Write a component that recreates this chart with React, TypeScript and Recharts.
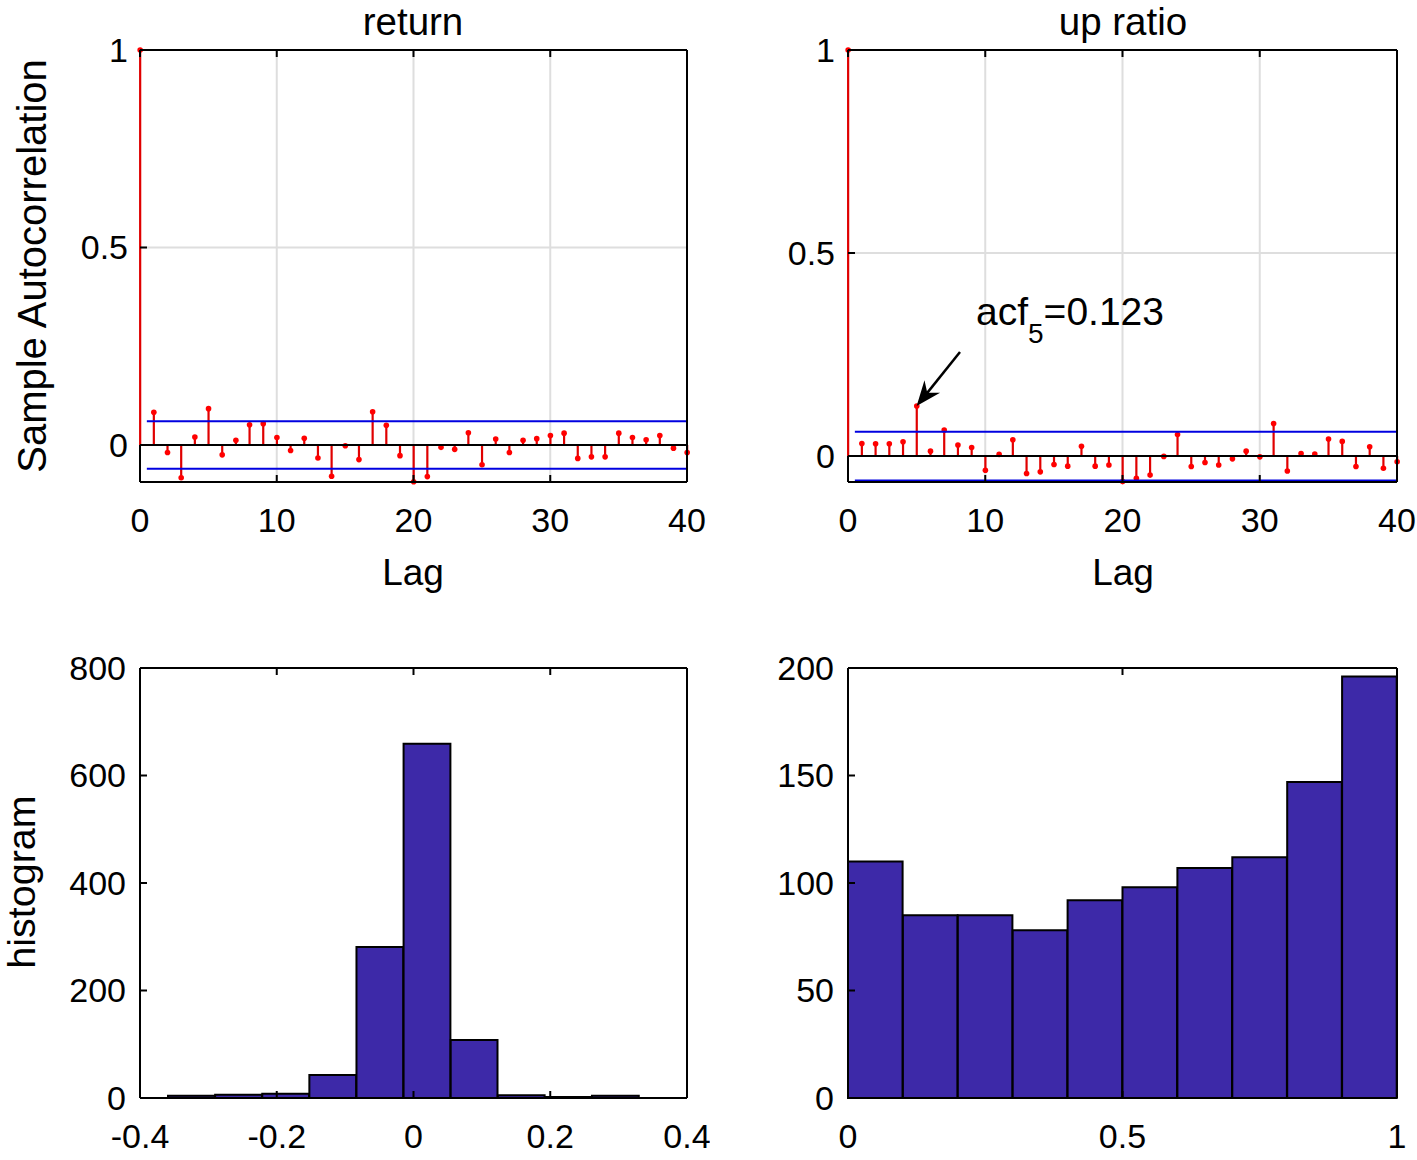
import React from 'react';
import { ComposedChart, Bar, XAxis, YAxis, CartesianGrid, ReferenceLine } from 'recharts';

const FONT = '"Liberation Sans", Arial, Helvetica, sans-serif';

// ---- autocorrelation data (lags 0..40) ----
const lags = [
  0, 1, 2, 3, 4, 5, 6, 7, 8, 9, 10, 11, 12, 13, 14, 15, 16, 17, 18, 19, 20,
  21, 22, 23, 24, 25, 26, 27, 28, 29, 30, 31, 32, 33, 34, 35, 36, 37, 38, 39, 40,
];
const returnAcf = [
  1, 0.083, -0.019, -0.083, 0.02, 0.092, -0.025, 0.012, 0.051, 0.054, 0.019,
  -0.014, 0.017, -0.033, -0.079, -0.002, -0.037, 0.084, 0.05, -0.027, -0.093,
  -0.08, -0.006, -0.011, 0.031, -0.05, 0.015, -0.019, 0.012, 0.016, 0.024,
  0.03, -0.034, -0.03, -0.03, 0.03, 0.019, 0.013, 0.024, -0.008, -0.019,
];
const upRatioAcf = [
  1, 0.031, 0.03, 0.03, 0.035, 0.123, 0.012, 0.064, 0.027, 0.021, -0.035,
  0.004, 0.04, -0.043, -0.039, -0.021, -0.025, 0.024, -0.025, -0.022, -0.063,
  -0.055, -0.047, -0.001, 0.053, -0.026, -0.016, -0.022, -0.007, 0.012, -0.002,
  0.08, -0.037, 0.006, 0.005, 0.042, 0.036, -0.026, 0.023, -0.03, -0.014,
];
const acfBound = 0.06;
const lagTicks = [0, 10, 20, 30, 40];
const acfTicks = [0, 0.5, 1];

// ---- histograms ----
const returnBins = [-0.3246, -0.2557, -0.1868, -0.1179, -0.049, 0.0199, 0.0888, 0.1577, 0.2266, 0.2954];
const returnCounts = [4, 6, 8, 43, 281, 659, 108, 5, 2, 4];
const returnBinWidth = 0.0689;
const returnTicks = [-0.4, -0.2, 0, 0.2, 0.4];
const returnCountTicks = [0, 200, 400, 600, 800];

const upRatioBins = [0.05, 0.15, 0.25, 0.35, 0.45, 0.55, 0.65, 0.75, 0.85, 0.95];
const upRatioCounts = [110, 85, 85, 78, 92, 98, 107, 112, 147, 196];
const upRatioBinWidth = 0.1;
const upRatioTicks = [0, 0.5, 1];
const upRatioCountTicks = [0, 50, 100, 150, 200];

// annotation arrow (data units) pointing at lag 5
const arrowTail = { x: 8.16, y: 0.256 };
const arrowLag = 5;

const STEM = '#e00000';
const DOT = '#ff0000';
const BOUND = '#0000e0';
const HIST = '#3d29a8';
const TICK_LEN = 7;
const YW = 60, XH = 50, RW = 1, TH = 1;

type Box = { left: number; top: number; width: number; height: number };
type Plot = { left: number; top: number; right: number; bottom: number };

const margins = (b: Box, p: Plot) => ({
  left: p.left - b.left - YW,
  top: p.top - b.top - TH,
  right: b.left + b.width - p.right - RW,
  bottom: b.top + b.height - p.bottom - XH,
});

const fmt = (v: number) => String(Math.round(v * 1000) / 1000);

const bottomTick = (m: number) => (p: any) => (
  <g>
    <line x1={p.x} x2={p.x} y1={p.y - m} y2={p.y - m - TICK_LEN} stroke="#000" strokeWidth={2} />
    <text x={p.x} y={p.y} dy="0.71em" textAnchor="middle" fontSize={34} fontFamily={FONT} fill="#000">
      {fmt(p.payload.value)}
    </text>
  </g>
);

const leftTick = (m: number) => (p: any) => (
  <g>
    <line x1={p.x + m} x2={p.x + m + TICK_LEN} y1={p.y} y2={p.y} stroke="#000" strokeWidth={2} />
    <text x={p.x} y={p.y} dy="0.35em" textAnchor="end" fontSize={34} fontFamily={FONT} fill="#000">
      {fmt(p.payload.value)}
    </text>
  </g>
);

const topTick = (p: any) => (
  <line x1={p.x} x2={p.x} y1={p.y} y2={p.y + TICK_LEN} stroke="#000" strokeWidth={2} />
);

const rightTick = (p: any) => (
  <line x1={p.x} x2={p.x - TICK_LEN} y1={p.y} y2={p.y} stroke="#000" strokeWidth={2} />
);

const frameLine = { stroke: '#000', strokeWidth: 2 };

const Stem = (props: any) => {
  const { x, y, width, height, payload } = props;
  const cx = x + width / 2;
  const top = Math.min(y, y + height);
  const bot = Math.max(y, y + height);
  const tip = payload.acf >= 0 ? top : bot;
  const base = payload.acf >= 0 ? bot : top;
  return (
    <g>
      <line x1={cx} x2={cx} y1={base} y2={tip} stroke={STEM} strokeWidth={2.2} />
      <circle cx={cx} cy={tip} r={2.8} fill={DOT} />
    </g>
  );
};

const Arrow = (p: any) => {
  const { x1, y1, x2, y2 } = p;
  const ang = Math.atan2(y2 - y1, x2 - x1);
  const pt = (d: number, w: number) =>
    `${x2 - d * Math.cos(ang) - w * Math.sin(ang)},${y2 - d * Math.sin(ang) + w * Math.cos(ang)}`;
  const nx = x2 - 16 * Math.cos(ang);
  const ny = y2 - 16 * Math.sin(ang);
  return (
    <g>
      <line x1={x1} y1={y1} x2={nx} y2={ny} stroke="#000" strokeWidth={2.5} />
      <polygon points={`${x2},${y2} ${pt(25, 10)} ${pt(17, 0)} ${pt(25, -10)}`} fill="#000" />
    </g>
  );
};

const AcfPanel: React.FC<{ values: number[]; lo: number; box: Box; plot: Plot; yMargin: number; arrow?: boolean }> = ({
  values, lo, box, plot, yMargin, arrow,
}) => {
  const data = lags.map((lag, i) => ({ lag, acf: values[i] }));
  return (
    <div style={{ position: 'absolute', left: box.left, top: box.top }}>
      <ComposedChart width={box.width} height={box.height} data={data} margin={margins(box, plot)}>
        <CartesianGrid stroke="#dedede" strokeWidth={2} />
        <XAxis dataKey="lag" type="number" domain={[0, 40]} ticks={lagTicks} interval={0}
          height={XH} tickSize={0} tickMargin={26} tickLine={false} axisLine={frameLine} tick={bottomTick(26)} />
        <XAxis xAxisId="t" dataKey="lag" orientation="top" type="number" domain={[0, 40]} ticks={lagTicks} interval={0}
          height={TH} tickSize={0} tickMargin={0} tickLine={false} axisLine={frameLine} tick={topTick} />
        <YAxis type="number" domain={[lo, 1]} ticks={acfTicks} interval={0}
          width={YW} tickSize={0} tickMargin={yMargin} tickLine={false} axisLine={false} tick={leftTick(yMargin)} />
        <YAxis yAxisId="r" orientation="right" type="number" domain={[lo, 1]} ticks={acfTicks} interval={0}
          width={RW} tickSize={0} tickMargin={0} tickLine={false} axisLine={frameLine} tick={rightTick} />
        {/* left frame below zero only; above zero the lag-0 stem forms the edge */}
        <ReferenceLine segment={[{ x: 0, y: lo }, { x: 0, y: 0 }]} stroke="#000" strokeWidth={2} />
        <ReferenceLine y={0} stroke="#000" strokeWidth={2} />
        <ReferenceLine segment={[{ x: 0.5, y: acfBound }, { x: 40, y: acfBound }]} stroke={BOUND} strokeWidth={2} />
        <ReferenceLine segment={[{ x: 0.5, y: -acfBound }, { x: 40, y: -acfBound }]} stroke={BOUND} strokeWidth={2} />
        <Bar dataKey="acf" barSize={2} shape={Stem} isAnimationActive={false} />
        {arrow && (
          <ReferenceLine segment={[arrowTail, { x: arrowLag, y: values[arrowLag] }]} shape={Arrow} />
        )}
      </ComposedChart>
    </div>
  );
};

const HistPanel: React.FC<{
  bins: number[]; counts: number[]; binWidth: number; xDomain: [number, number]; xTicks: number[];
  yMax: number; yTicks: number[]; box: Box; plot: Plot;
}> = ({ bins, counts, binWidth, xDomain, xTicks, yMax, yTicks, box, plot }) => {
  const data = bins.map((x, i) => ({ x, count: counts[i] }));
  // a hair under the bin spacing so Recharts does not shrink the bars to 90%
  const barSize = (binWidth / (xDomain[1] - xDomain[0])) * (plot.right - plot.left) - 0.3;
  return (
    <div style={{ position: 'absolute', left: box.left, top: box.top }}>
      <ComposedChart width={box.width} height={box.height} data={data} margin={margins(box, plot)} barGap={0}>
        <XAxis dataKey="x" type="number" domain={xDomain} ticks={xTicks} interval={0}
          height={XH} tickSize={0} tickMargin={26} tickLine={false} axisLine={frameLine} tick={bottomTick(26)} />
        <XAxis xAxisId="t" dataKey="x" orientation="top" type="number" domain={xDomain} ticks={xTicks} interval={0}
          height={TH} tickSize={0} tickMargin={0} tickLine={false} axisLine={frameLine} tick={topTick} />
        <YAxis type="number" domain={[0, yMax]} ticks={yTicks} interval={0}
          width={YW} tickSize={0} tickMargin={14} tickLine={false} axisLine={frameLine} tick={leftTick(14)} />
        <YAxis yAxisId="r" orientation="right" type="number" domain={[0, yMax]} ticks={yTicks} interval={0}
          width={RW} tickSize={0} tickMargin={0} tickLine={false} axisLine={frameLine} tick={rightTick} />
        <Bar dataKey="count" barSize={barSize} fill={HIST} stroke="#000" strokeWidth={2} isAnimationActive={false} />
      </ComposedChart>
    </div>
  );
};

const App: React.FC = () => (
  <div style={{ position: 'absolute', left: 0, top: 0, width: 1417, height: 1160, background: '#fff', fontFamily: FONT }}>
    <AcfPanel values={returnAcf} lo={-0.0937} yMargin={12}
      box={{ left: 0, top: 0, width: 710, height: 600 }} plot={{ left: 140, top: 50, right: 687, bottom: 482 }} />
    <AcfPanel values={upRatioAcf} lo={-0.064} yMargin={13} arrow
      box={{ left: 720, top: 0, width: 697, height: 600 }} plot={{ left: 848, top: 50, right: 1397, bottom: 482 }} />
    <HistPanel bins={returnBins} counts={returnCounts} binWidth={returnBinWidth} xDomain={[-0.4, 0.4]} xTicks={returnTicks}
      yMax={800} yTicks={returnCountTicks}
      box={{ left: 0, top: 620, width: 710, height: 540 }} plot={{ left: 140, top: 668, right: 687, bottom: 1098 }} />
    <HistPanel bins={upRatioBins} counts={upRatioCounts} binWidth={upRatioBinWidth} xDomain={[0, 1]} xTicks={upRatioTicks}
      yMax={200} yTicks={upRatioCountTicks}
      box={{ left: 720, top: 620, width: 697, height: 540 }} plot={{ left: 848, top: 668, right: 1397, bottom: 1098 }} />

    <svg width={1417} height={1160} style={{ position: 'absolute', left: 0, top: 0, pointerEvents: 'none' }}
      fontFamily={FONT} fill="#000">
      <text x={413} y={35} fontSize={38.5} textAnchor="middle">return</text>
      <text x={1123} y={35} fontSize={38.5} textAnchor="middle">up ratio</text>
      <text x={413} y={585} fontSize={37} textAnchor="middle">Lag</text>
      <text x={1123} y={585} fontSize={37} textAnchor="middle">Lag</text>
      <text x={46} y={266} fontSize={40} textAnchor="middle" transform="rotate(-90 46 266)">Sample Autocorrelation</text>
      <text x={35} y={882} fontSize={39.5} textAnchor="middle" transform="rotate(-90 35 882)">histogram</text>
      <text x={976} y={325} fontSize={39}>
        acf<tspan dy={18} fontSize={28}>5</tspan><tspan dy={-18}>=0.123</tspan>
      </text>
    </svg>
  </div>
);

export default App;
